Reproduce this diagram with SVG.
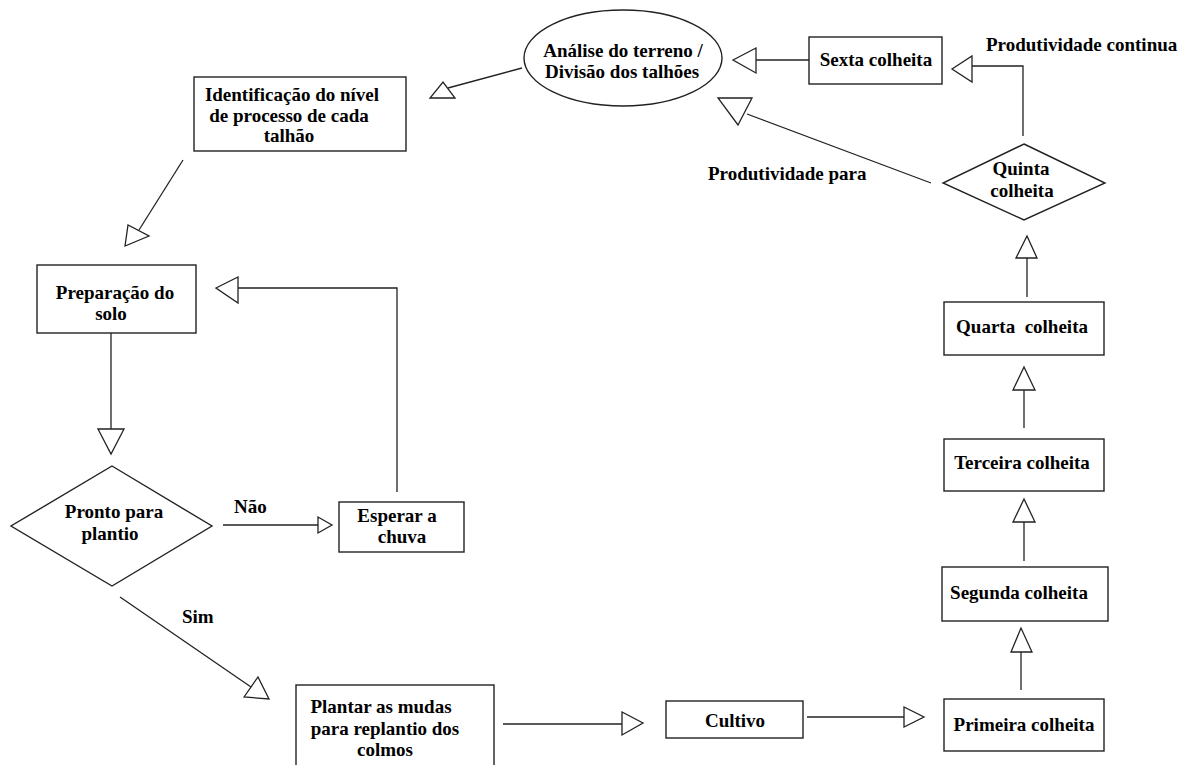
<svg xmlns="http://www.w3.org/2000/svg" width="1186" height="765" viewBox="0 0 1186 765">
<style>
.box{fill:#fff;stroke:#222;stroke-width:1.4}
.ln{fill:none;stroke:#222;stroke-width:1.3}
.ah{fill:#fff;stroke:#222;stroke-width:1.3;stroke-linejoin:miter}
text{font-family:"Liberation Serif","Times New Roman",serif;font-weight:bold;font-size:19px;fill:#000}
.c{text-anchor:middle}
</style>
<rect width="1186" height="765" fill="#fff"/>
<g id="connectors">
<line class="ln" x1="522" y1="68" x2="448" y2="88"/>
<polygon class="ah" points="430,98 455,98 443,82"/>
<line class="ln" x1="809" y1="60" x2="756" y2="60"/>
<polygon class="ah" points="733,60 756,48 756,73"/>
<polyline class="ln" points="1023,136 1023,66 972,66"/>
<polygon class="ah" points="952,69 972,56 972,82"/>
<line class="ln" x1="931" y1="183" x2="747" y2="114"/>
<polygon class="ah" points="718,98 752,98 738,125"/>
<line class="ln" x1="183" y1="160" x2="139" y2="230"/>
<polygon class="ah" points="125,246 128,225 149,236"/>
<polyline class="ln" points="397,492 397,288 238,288"/>
<polygon class="ah" points="216,288 238,277 238,303"/>
<line class="ln" x1="111" y1="333" x2="111" y2="429"/>
<polygon class="ah" points="98,429 124,429 111,454"/>
<line class="ln" x1="223" y1="525" x2="318" y2="525"/>
<polygon class="ah" points="318,517 318,533 332,525"/>
<line class="ln" x1="120" y1="597" x2="251" y2="687"/>
<polygon class="ah" points="244,697 258,677 269,699"/>
<line class="ln" x1="503" y1="724" x2="622" y2="724"/>
<polygon class="ah" points="622,712 622,735 643,723"/>
<line class="ln" x1="807" y1="717" x2="904" y2="717"/>
<polygon class="ah" points="904,707 904,727 924,717"/>
<line class="ln" x1="1021" y1="690" x2="1021" y2="652"/>
<polygon class="ah" points="1011,652 1032,652 1021,628"/>
<line class="ln" x1="1024" y1="561" x2="1024" y2="522"/>
<polygon class="ah" points="1013,522 1035,522 1024,499"/>
<line class="ln" x1="1024" y1="428" x2="1024" y2="390"/>
<polygon class="ah" points="1013,390 1035,390 1024,367"/>
<line class="ln" x1="1027" y1="297" x2="1027" y2="258"/>
<polygon class="ah" points="1016,258 1037,258 1027,236"/>
<text x="986" y="51">Produtividade continua</text>
<text x="708" y="180">Produtividade para</text>
<text x="234" y="513">Não</text>
<text x="182" y="623">Sim</text>
</g>
<g id="analise">
<ellipse class="box" cx="623" cy="58" rx="99" ry="48"/>
<text class="c" x="623" y="57">Análise do terreno /</text>
<text class="c" x="622" y="78">Divisão dos talhões</text>
</g>
<g id="sexta">
<rect class="box" x="809" y="37" width="133" height="47"/>
<text class="c" x="876" y="66">Sexta colheita</text>
</g>
<g id="quinta">
<polygon class="box" points="1024,144 1105,183 1024,220 943,183"/>
<text class="c" x="1021" y="175">Quinta</text>
<text class="c" x="1022" y="197">colheita</text>
</g>
<g id="identificacao">
<rect class="box" x="194" y="77" width="212" height="74"/>
<text class="c" x="292" y="101">Identificação do nível</text>
<text class="c" x="289" y="122">de processo de cada</text>
<text class="c" x="289" y="142">talhão</text>
</g>
<g id="preparacao">
<rect class="box" x="37" y="265" width="159" height="68"/>
<text class="c" x="115" y="299">Preparação do</text>
<text class="c" x="111" y="320">solo</text>
</g>
<g id="pronto">
<polygon class="box" points="112,466 212,526 112,586 11,526"/>
<text class="c" x="114" y="518">Pronto para</text>
<text class="c" x="110" y="540">plantio</text>
</g>
<g id="esperar">
<rect class="box" x="339" y="502" width="125" height="50"/>
<text class="c" x="397" y="522">Esperar a</text>
<text class="c" x="402" y="543">chuva</text>
</g>
<g id="plantar">
<rect class="box" x="296" y="685" width="198" height="90"/>
<text class="c" x="381" y="713">Plantar as mudas</text>
<text class="c" x="385" y="735">para replantio dos</text>
<text class="c" x="385" y="756">colmos</text>
</g>
<g id="cultivo">
<rect class="box" x="666" y="701" width="137" height="37"/>
<text class="c" x="735" y="727">Cultivo</text>
</g>
<g id="primeira">
<rect class="box" x="944" y="699" width="160" height="52"/>
<text class="c" x="1024" y="731">Primeira colheita</text>
</g>
<g id="segunda">
<rect class="box" x="942" y="567" width="166" height="54"/>
<text class="c" x="1019" y="599">Segunda colheita</text>
</g>
<g id="terceira">
<rect class="box" x="944" y="439" width="160" height="52"/>
<text class="c" x="1022" y="469">Terceira colheita</text>
</g>
<g id="quarta">
<rect class="box" x="944" y="302" width="160" height="53"/>
<text class="c" x="1022" y="333" xml:space="preserve">Quarta  colheita</text>
</g>
</svg>
